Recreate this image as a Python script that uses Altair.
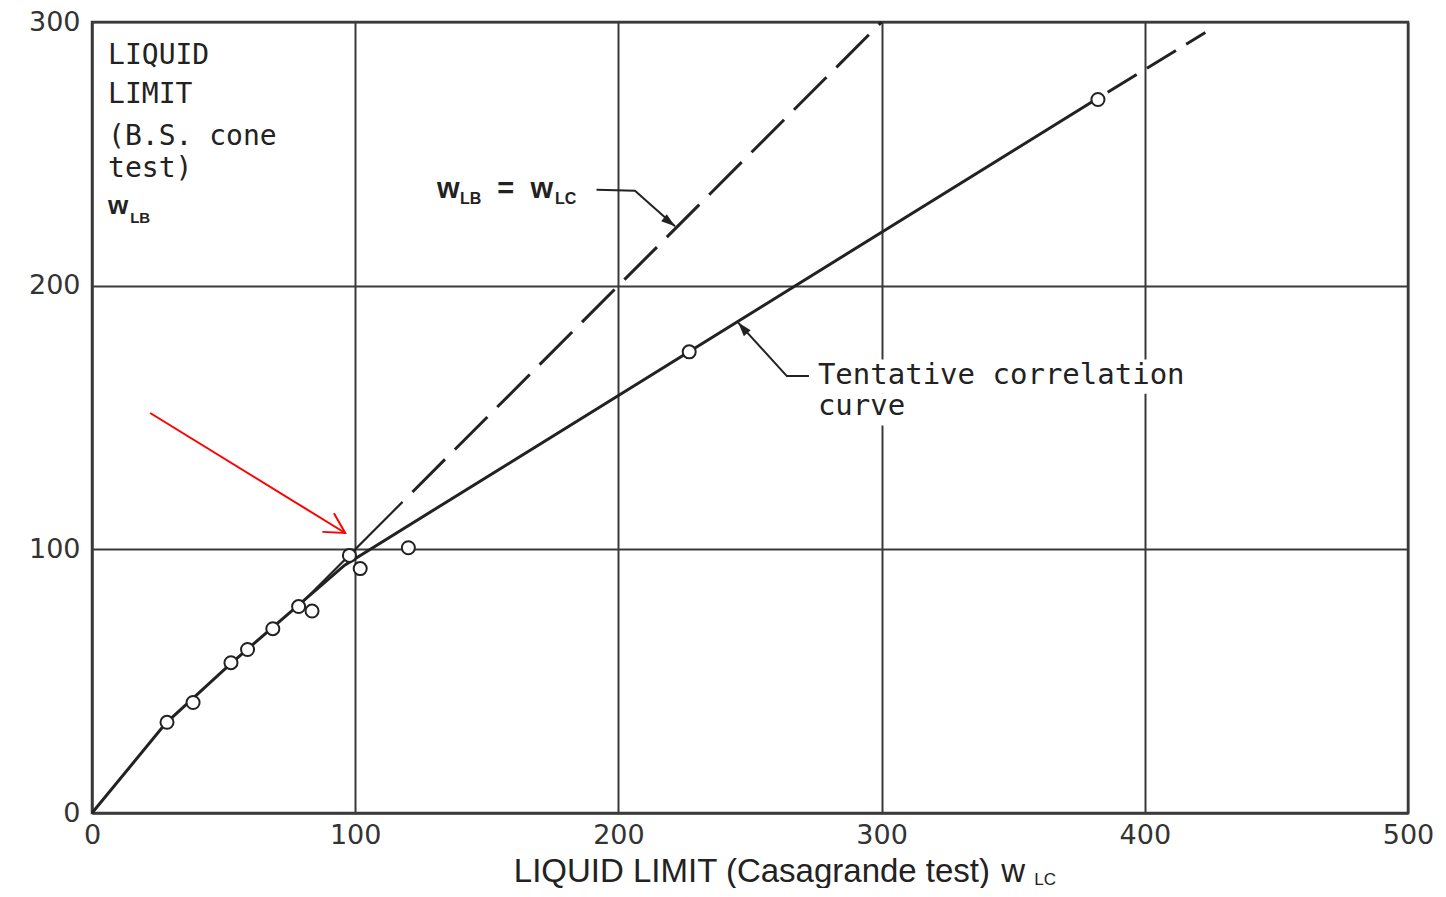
import altair as alt
import pandas as pd

# ---------------- data ----------------
obs_x = [28.5, 38.4, 52.8, 59.1, 68.7, 78.5, 83.6, 97.8, 101.9, 120.2, 226.9, 382.2]
obs_y = [34.4, 41.9, 57.0, 62.0, 69.9, 78.3, 76.6, 97.7, 92.7, 100.6, 174.9, 270.6]

curve_x = [0, 28, 52, 78, 96, 382]           # tentative correlation curve (solid)
curve_y = [0, 34, 56, 78.5, 94, 271]
ext_x = [382, 423]                            # dashed extension
ext_y = [271, 296]

eq_solid = [80, 118]                          # w_LB = w_LC, solid part
eq_dash = [118, 300]                          # w_LB = w_LC, dashed part

x_ticks = [0, 100, 200, 300, 400, 500]
y_ticks = [0, 100, 200, 300]

# annotation texts (data coordinates)
ylab_lines = ["LIQUID", "LIMIT", "(B.S. cone", "test)"]
ylab_x = [6.1, 6.1, 6.1, 6.1]
ylab_y = [287.0, 272.3, 256.2, 244.1]

tent_lines = ["Tentative correlation", "curve"]
tent_x = [275.8, 275.8]
tent_y = [166.0, 154.2]

leader1_x = [191.7, 206.3, 221.5]
leader1_y = [236.4, 236.0, 222.5]
leader2_x = [272.4, 264.0, 245.5]
leader2_y = [165.7, 165.7, 186.0]
red_x = [22.1, 96.2]
red_y = [151.7, 106.2]

INK = "#222222"
GRID = "#3a3a3a"

xs = alt.Scale(domain=[0, 500], nice=False, zero=False)
ys = alt.Scale(domain=[0, 300], nice=False, zero=False)
xax = alt.Axis(values=x_ticks, title=None, labelFlush=False, labelPadding=9)
yax = alt.Axis(values=y_ticks, title=None, labelPadding=12)


def xy(chart):
    return chart.encode(
        x=alt.X("x:Q", scale=xs, axis=xax),
        y=alt.Y("y:Q", scale=ys, axis=yax),
    )


def df(xv, yv, **extra):
    d = pd.DataFrame({"x": xv, "y": yv})
    for k, v in extra.items():
        d[k] = v
    return d


def label(xv, yv, texts, **style):
    base = dict(align="left", baseline="alphabetic", color=INK)
    base.update(style)
    return xy(alt.Chart(df(xv, yv, t=texts)).mark_text(**base)).encode(text="t:N")


# white boxes behind the "Tentative correlation curve" label
boxes = pd.DataFrame({"x": [274, 274], "x2": [420, 313], "y": [159, 147], "y2": [172, 159]})
box_layer = alt.Chart(boxes).mark_rect(color="white").encode(
    x=alt.X("x:Q", scale=xs, axis=xax), x2="x2:Q",
    y=alt.Y("y:Q", scale=ys, axis=yax), y2="y2:Q",
)

curve = xy(alt.Chart(df(curve_x, curve_y)).mark_line(color=INK, strokeWidth=3))
curve_ext = xy(alt.Chart(df(ext_x, ext_y)).mark_line(color=INK, strokeWidth=3, strokeDash=[34, 12], strokeDashOffset=34))
eq1 = xy(alt.Chart(df(eq_solid, eq_solid)).mark_line(color=INK, strokeWidth=2.2))
eq2 = xy(alt.Chart(df(eq_dash, eq_dash)).mark_line(color=INK, strokeWidth=3, strokeDash=[46, 14], strokeDashOffset=46))

pts = xy(alt.Chart(df(obs_x, obs_y)).mark_point(
    shape="circle", filled=True, fill="white", stroke=INK, strokeWidth=2, size=170, opacity=1))

lead1 = xy(alt.Chart(df(leader1_x, leader1_y, o=[0, 1, 2])).mark_line(color=INK, strokeWidth=2)).encode(order="o:Q")
lead2 = xy(alt.Chart(df(leader2_x, leader2_y, o=[0, 1, 2])).mark_line(color=INK, strokeWidth=2)).encode(order="o:Q")

ARROW = "M0,0L-0.32,1L0.32,1Z"
head1 = xy(alt.Chart(df(leader1_x[-1:], leader1_y[-1:])).mark_point(
    shape=ARROW, filled=True, color=INK, size=784, angle=128, opacity=1))
head2 = xy(alt.Chart(df(leader2_x[-1:], leader2_y[-1:])).mark_point(
    shape=ARROW, filled=True, color=INK, size=784, angle=319.5, opacity=1))

red_line = xy(alt.Chart(df(red_x, red_y)).mark_line(color="#ff0000", strokeWidth=2))
red_head = xy(alt.Chart(df(red_x[-1:], red_y[-1:])).mark_point(
    shape="M-0.55,1L0,0L0.55,1", filled=False, color="#ff0000", strokeWidth=2, size=1600, angle=121.6, opacity=1))

MONO = "DejaVu Sans Mono"
SANS = "Liberation Sans"

ylab = label(ylab_x, ylab_y, ylab_lines, baseline="middle", font=MONO, fontSize=28)
ylab_w = label([6.1], [227.1], ["w"], font=SANS, fontWeight="bold", fontSize=26)
ylab_sub = label([14.5], [223.7], ["LB"], font=SANS, fontWeight="bold", fontSize=15)

tent = label(tent_x, tent_y, tent_lines, baseline="middle", font=MONO, fontSize=29)

# w_LB = w_LC label
eq_big = label([131.1, 154.0, 166.6], [233.3, 233.3, 233.3], ["w", "=", "w"],
               font=SANS, fontWeight="bold", fontSize=29)
eq_sub = label([139.8, 175.9], [231.0, 231.0], ["LB", "LC"], font=SANS, fontWeight="bold", fontSize=16)

# x axis title
xt_main = label([341.2], [-26.2], ["LIQUID LIMIT (Casagrande test)"], align="right", font=SANS, fontSize=33)
xt_w = label([345.5], [-26.2], ["w"], font=SANS, fontSize=33)
xt_sub = label([358.0], [-27.3], ["LC"], font=SANS, fontSize=17)

chart = alt.layer(
    box_layer, curve, curve_ext, eq1, eq2, lead1, lead2, head1, head2, pts,
    red_line, red_head, ylab, ylab_w, ylab_sub, tent, eq_big, eq_sub, xt_main, xt_w, xt_sub,
).properties(
    width=1316, height=791,
    autosize=alt.AutoSizeParams(type="none"),
    padding={"left": 84, "top": 14, "right": 30, "bottom": 75},
    background="white",
).configure_axis(
    grid=True, gridColor=GRID, gridWidth=2, gridOpacity=1,
    domainColor=GRID, domainWidth=2, ticks=False,
    labelFont="DejaVu Sans", labelFontSize=27, labelColor="#333333",
).configure_view(stroke=GRID, strokeWidth=2.5)

chart.save("out.html", embed_options={"renderer": "svg", "actions": False})
